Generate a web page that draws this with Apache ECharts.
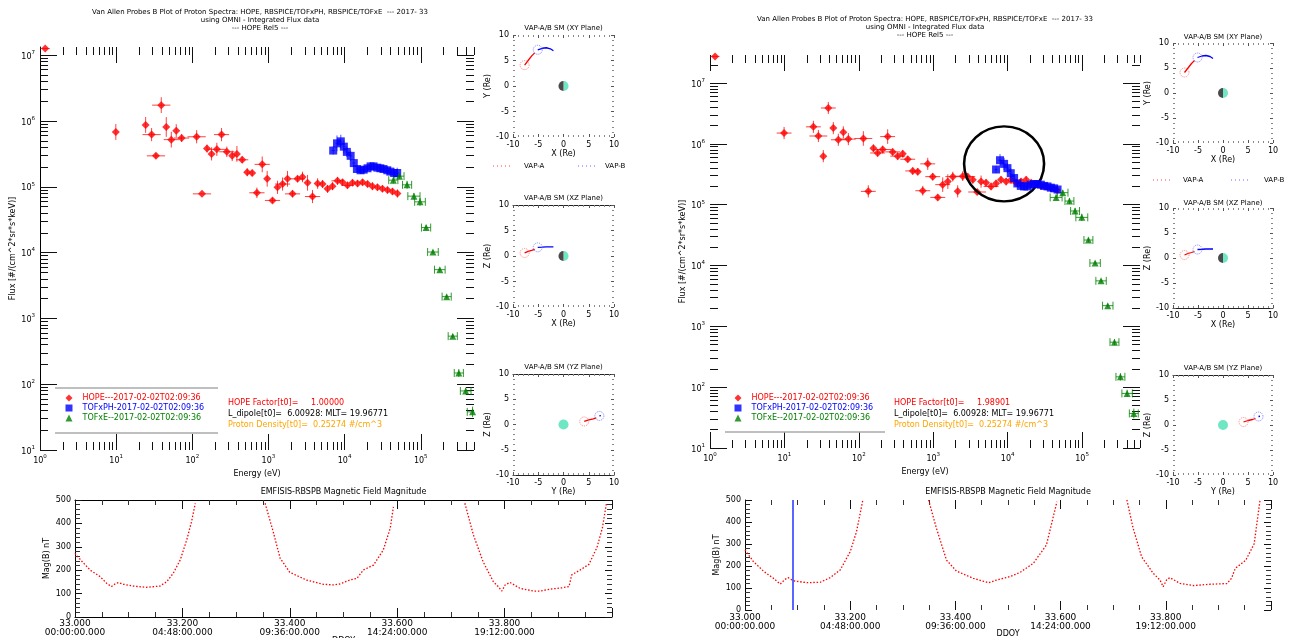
<!DOCTYPE html>
<html>
<head>
<meta charset="utf-8">
<title>Van Allen Probes B proton spectra</title>
<script src="https://cdn.jsdelivr.net/npm/echarts@6/dist/echarts.min.js"></script>
<style>
  html, body { margin: 0; padding: 0; background: #fff; }
  #main { width: 1291px; height: 638px; }
</style>
</head>
<body>
<div id="main"></div>
<script>
// ---------------- axis tick values ----------------
const energyTicks = [1, 10, 100, 1000, 10000, 100000];
const fluxTicks = [10, 100, 1000, 10000, 100000, 1000000, 10000000];
const orbitTicks = [-10, -5, 0, 5, 10];

// ---------------- spectra, HOPE factor 1.00000 ----------------
// energy in eV, flux in #/(cm^2 sr s keV); dE / dF are half widths of the error bars in decades
const hopeEnergyL = [1.17, 9.9, 24.4, 29.2, 33.3, 39.1, 45.5, 53.0, 61.5, 72.4, 114, 134, 156, 179, 210, 242, 284, 334, 385, 452, 526, 611, 705, 828, 962, 1130, 1315, 1531, 1778, 2070, 2410, 2800, 3260, 3790, 4420, 5130, 5970, 6930, 8070, 9400, 10900, 12700, 14800, 17200, 20000, 23200, 27000, 31400, 36600, 42500, 49400];
const hopeFluxL = [1.26e7, 6.8e5, 8.7e5, 6.2e5, 2.95e5, 1.74e6, 8.1e5, 5.2e5, 7.1e5, 5.5e5, 5.75e5, 7.8e4, 3.8e5, 3.16e5, 3.7e5, 6.2e5, 3.4e5, 2.95e5, 3.16e5, 2.57e5, 1.66e5, 1.62e5, 8.1e4, 2.19e5, 1.32e5, 6.2e4, 9.8e4, 1.10e5, 1.32e5, 7.8e4, 1.32e5, 1.41e5, 1.15e5, 7.1e4, 1.12e5, 1.10e5, 9.3e4, 1.02e5, 1.23e5, 1.17e5, 1.05e5, 1.15e5, 1.12e5, 1.17e5, 1.10e5, 1.02e5, 9.8e4, 9.3e4, 8.9e4, 8.5e4, 7.9e4];
const hopeDEL = [0.06, 0, 0, .12, .12, .12, 0, .1, 0, .1, .12, .12, 0, 0, .12, .1, .1, 0, 0, .08, 0, 0, .1, .1, 0, .1, 0, .1, 0, .1, .1, 0, 0, .1, 0, 0, 0, 0, .08, 0, .08, 0, 0, 0, 0, 0, 0, 0, 0, 0, 0];
const hopeDFL = [0, .12, .12, .1, .04, .12, .15, .12, .1, .06, .1, 0, .06, .1, .1, .1, .08, .08, .12, .05, .06, .05, .08, .12, .12, .04, .1, .1, .12, .05, .05, .08, .12, .1, .08, .06, .06, .06, .06, .05, .05, .05, .05, .05, .05, .06, .05, .05, .05, .05, .06];

const tofphEnergyL = [7080, 7940, 8910, 9770, 10700, 12000, 13200, 14500, 16200, 17800, 20000, 21900, 24000, 26900, 29500, 32400, 36300, 39800, 44700, 49000];
const tofphFluxL = [3.55e5, 4.57e5, 4.9e5, 4.07e5, 3.39e5, 2.95e5, 2.29e5, 1.86e5, 1.78e5, 1.82e5, 1.91e5, 2.04e5, 2.04e5, 1.95e5, 1.91e5, 1.86e5, 1.78e5, 1.70e5, 1.62e5, 1.62e5];
const tofphDEL = [.02, .02, .02, .02, .02, .02, .02, .02, .02, .02, .02, .02, .02, .02, .02, .02, .02, .02, .02, .02];
const tofphDFL = [.06, .12, .1, .1, .08, .08, .06, .05, .05, .05, .05, .06, .05, .05, .05, .05, .06, .06, .07, .08];

const tofxeEnergyL = [43600, 52500, 66100, 81300, 97700, 117500, 144500, 177800, 218800, 263000, 316000, 389000, 479000];
const tofxeFluxL = [1.26e5, 1.45e5, 1.07e5, 7.2e4, 5.9e4, 2.4e4, 1.02e4, 5500, 2140, 537, 148, 79, 38];
const tofxeDEL = [.06, .06, .06, .08, .07, .06, .07, .07, .06, .06, .06, .07, .07];
const tofxeDFL = [.05, .04, .06, .05, .06, .04, .03, .03, .03, .03, .06, .05, .08];

// ---------------- spectra, HOPE factor 1.98901 ----------------
const hopeEnergyR = [1.17, 9.9, 24.5, 28.6, 33.3, 38.9, 45.4, 53.0, 61.9, 72.3, 115, 134, 157, 179, 209, 244, 285, 333, 389, 454, 530, 619, 723, 843, 984, 1150, 1340, 1570, 1830, 2130, 2490, 2910, 3400, 3890, 4390, 5120, 5980, 6980, 8130, 9530, 11100, 13000, 15100, 17700, 20700, 24100, 28100, 32800, 38300, 45700];
const hopeFluxR = [2.75e7, 1.51e6, 1.91e6, 1.35e6, 6.3e5, 3.9e6, 1.82e6, 1.17e6, 1.55e6, 1.2e6, 1.23e6, 1.66e5, 8.5e5, 7.1e5, 8.1e5, 1.32e6, 7.4e5, 6.3e5, 6.9e5, 5.6e5, 3.6e5, 3.5e5, 1.7e5, 4.7e5, 2.9e5, 1.32e5, 2.14e5, 2.4e5, 2.9e5, 1.66e5, 2.95e5, 2.9e5, 2.57e5, 1.62e5, 2.4e5, 2.29e5, 2.0e5, 2.24e5, 2.57e5, 2.4e5, 2.57e5, 2.29e5, 2.4e5, 2.57e5, 2.29e5, 2.19e5, 2.04e5, 2.0e5, 1.86e5, 1.74e5];
const hopeDER = [0.06, .1, .1, .12, 0, .1, 0, .1, 0, .1, .12, .1, 0, .1, .12, .1, .1, .1, 0, .1, .1, 0, .1, .1, .1, .1, .1, 0, .1, 0, .1, .1, 0, .12, 0, 0, .1, 0, 0, 0, 0, .1, 0, 0, 0, 0, 0, 0, 0, 0];
const hopeDFR = [0, .1, .1, .1, .1, .1, .1, .1, .1, .1, .12, .1, .06, .06, .06, .12, .06, .06, .06, .05, .06, .06, .08, .1, .06, .05, .12, .12, .08, .1, .08, .06, .06, .05, .1, .06, .06, .06, .06, .06, .06, .06, .06, .06, .05, .05, .05, .05, .05, .05];

const tofphEnergyR = [6980, 7890, 8950, 9930, 11000, 12200, 13500, 15000, 16600, 18400, 20400, 22600, 25100, 27900, 30900, 34300, 38000, 42100, 46800];
const tofphFluxR = [3.8e5, 5.4e5, 4.7e5, 4.0e5, 3.3e5, 2.75e5, 2.24e5, 2.04e5, 2.0e5, 2.0e5, 2.14e5, 2.19e5, 2.19e5, 2.14e5, 2.04e5, 2.0e5, 1.91e5, 1.86e5, 1.78e5];
const tofphDER = [.02, .02, .02, .02, .02, .02, .02, .02, .02, .02, .02, .02, .02, .02, .02, .02, .02, .02, .02];
const tofphDFR = [.06, .1, .1, .08, .08, .06, .06, .05, .05, .05, .05, .05, .05, .05, .05, .05, .05, .06, .06];

const tofxeEnergyR = [44800, 55000, 67600, 80500, 99100, 121600, 149600, 179900, 221300, 272300, 327300, 402700, 495500];
const tofxeFluxR = [1.32e5, 1.58e5, 1.15e5, 7.9e4, 6.2e4, 2.63e4, 1.10e4, 5600, 2190, 550, 148, 79, 37];
const tofxeDER = [.08, .07, .06, .06, .08, .06, .07, .07, .07, .06, .06, .07, .06];
const tofxeDFR = [.05, .04, .05, .05, .06, .04, .03, .03, .03, .05, .06, .06, .08];

// highlighted region of the TOFxPH / HOPE overlap (energy eV, flux)
const highlightPoint = [8950, 4.7e5];

// ---------------- spacecraft tracks, SM coordinates (Re) ----------------
const vapA_x = [-7.7, -7.0, -6.3, -5.7];
const vapA_y = [4.1, 5.0, 5.9, 6.5];
const vapA_z = [0.6, 0.9, 1.1, 1.3];
const vapB_x = [-5.1, -4.2, -3.4, -2.6, -2.0];
const vapB_y = [7.1, 7.4, 7.5, 7.3, 6.9];
const vapB_z = [1.7, 1.75, 1.8, 1.8, 1.8];
const earthRadius = 1;

// ---------------- EMFISIS |B| (nT) vs decimal day of year; null separates orbit passes ----------------
const magTimeL = [33.000, 33.014, 33.028, 33.047, 33.059, 33.068, 33.075, 33.081, 33.090, 33.109, 33.133, 33.158, 33.171, 33.183, 33.196, 33.208, 33.217, 33.224, null,
  33.354, 33.369, 33.382, 33.400, 33.431, 33.462, 33.481, 33.493, 33.512, 33.525, 33.537, 33.556, 33.574, 33.587, 33.593, null,
  33.726, 33.742, 33.760, 33.779, 33.788, 33.795, 33.801, 33.810, 33.829, 33.854, 33.866, 33.888, 33.905, 33.920, 33.925, 33.940, 33.957, 33.972, 33.982, 33.990];
const magFieldL = [272, 235, 201, 172, 144, 130, 142, 147, 140, 132, 127, 132, 151, 187, 244, 329, 407, 486, null,
  486, 365, 251, 191, 158, 140, 137, 141, 158, 165, 201, 222, 286, 379, 471, null,
  486, 350, 236, 151, 130, 111, 137, 148, 122, 111, 111, 120, 124, 130, 180, 200, 225, 297, 380, 490];
const magTimeR = [33.000, 33.016, 33.035, 33.054, 33.067, 33.076, 33.082, 33.092, 33.117, 33.143, 33.162, 33.181, 33.200, 33.212, 33.224, null,
  33.349, 33.364, 33.383, 33.402, 33.434, 33.463, 33.478, 33.504, 33.523, 33.548, 33.573, 33.593, null,
  33.726, 33.738, 33.754, 33.776, 33.789, 33.795, 33.802, 33.808, 33.827, 33.852, 33.884, 33.916, 33.925, 33.932, 33.952, 33.968, 33.979];
const magFieldR = [273, 220, 177, 144, 118, 139, 147, 133, 124, 126, 147, 182, 265, 356, 500, null,
  500, 371, 227, 177, 144, 124, 136, 152, 171, 212, 295, 492, null,
  500, 371, 242, 167, 136, 106, 139, 147, 121, 111, 117, 120, 144, 189, 226, 301, 497];
const t0Day = 33.09; // 2017-02-02T02:09:36

// ---------------- text ----------------
const legendNames = ['HOPE---2017-02-02T02:09:36', 'TOFxPH-2017-02-02T02:09:36', 'TOFxE--2017-02-02T02:09:36'];
const legendIcons = ['diamond', 'rect', 'triangle'];
const seriesColors = ['#ff0000', '#0000ff', '#008000'];
const titleLine1 = 'Van Allen Probes B Plot of Proton Spectra: HOPE, RBSPICE/TOFxPH, RBSPICE/TOFxE  --- 2017- 33';
const titleLine2 = 'using OMNI - Integrated Flux data';
const titleLine3 = '--- HOPE Rel5 ---';

const FONT = 'DejaVu Sans';
const grids = [], xAxes = [], yAxes = [], series = [], graphics = [];

function logMinor(lo, hi) {
  const v = [];
  for (let e = lo; e < hi; e++) for (let m = 2; m < 10; m++) v.push(m * Math.pow(10, e));
  return v;
}
const energyMinor = logMinor(0, 6);
const fluxMinor = logMinor(1, 8);

const powRich = {
  b: { fontSize: 8, fontFamily: FONT, color: '#000', lineHeight: 11, verticalAlign: 'bottom' },
  s: { fontSize: 5.5, fontFamily: FONT, color: '#000', lineHeight: 6, verticalAlign: 'top' }
};
function pow10(v) { return '{b|10}{s|' + Math.round(Math.log10(v)) + '}'; }
const tickLine = { color: '#111', width: 1 };
const nameStyle = { fontFamily: FONT, fontSize: 8, color: '#000' };

function errRender(color, caps) {
  return function (params, api) {
    const E = api.value(0), F = api.value(1), dE = api.value(2), dF = api.value(3);
    const st = { stroke: color, lineWidth: 1 };
    const kids = [];
    if (dE > 0) {
      const k = Math.pow(10, dE);
      const a = api.coord([E / k, F]), b = api.coord([E * k, F]);
      kids.push({ type: 'line', shape: { x1: a[0], y1: a[1], x2: b[0], y2: b[1] }, style: st });
      if (caps) {
        kids.push({ type: 'line', shape: { x1: a[0], y1: a[1] - 4, x2: a[0], y2: a[1] + 4 }, style: st });
        kids.push({ type: 'line', shape: { x1: b[0], y1: b[1] - 4, x2: b[0], y2: b[1] + 4 }, style: st });
      }
    }
    if (dF > 0) {
      const k = Math.pow(10, dF);
      const a = api.coord([E, F / k]), b = api.coord([E, F * k]);
      kids.push({ type: 'line', shape: { x1: a[0], y1: a[1], x2: b[0], y2: b[1] }, style: st });
    }
    return { type: 'group', children: kids };
  };
}

function txt(x, y, text, size, color, align) {
  return {
    type: 'text', x: x, y: y, silent: true, z: 50,
    style: { text: text, font: size + 'px "' + FONT + '"', fill: color || '#000',
             textAlign: align || 'left', textVerticalAlign: 'middle' }
  };
}
function hline(x1, x2, y, color, w, dash) {
  return { type: 'line', silent: true, z: 50,
    shape: { x1: x1, y1: y, x2: x2, y2: y },
    style: { stroke: color, lineWidth: w || 1, lineDash: dash || null } };
}

// ---------- energy spectrum panel ----------
function buildSpectrum(box, d) {
  const gi = grids.length;
  grids.push({ left: box.left, top: box.top, width: box.width, height: box.height });
  const base = { type: 'log', logBase: 10, gridIndex: gi, splitLine: { show: false }, axisLabel: { show: false }, axisLine: { show: false } };
  const xb = Object.assign({}, base, { min: 1, max: box.xMax });
  const yb = Object.assign({}, base, { min: 10, max: box.yMax });
  const xi = xAxes.length;
  xAxes.push(Object.assign({}, xb, {
    position: 'bottom',
    axisTick: { inside: true, length: 16, customValues: energyTicks, lineStyle: tickLine },
    axisLabel: { show: true, customValues: energyTicks, formatter: pow10, rich: powRich, margin: 4 },
    name: 'Energy (eV)', nameLocation: 'middle', nameGap: 15, nameTextStyle: nameStyle
  }));
  xAxes.push(Object.assign({}, xb, { position: 'top', axisTick: { inside: true, length: 16, customValues: energyTicks, lineStyle: tickLine } }));
  xAxes.push(Object.assign({}, xb, { position: 'bottom', axisTick: { inside: true, length: 8, customValues: energyMinor, lineStyle: tickLine } }));
  xAxes.push(Object.assign({}, xb, { position: 'top', axisTick: { inside: true, length: 8, customValues: energyMinor, lineStyle: tickLine } }));
  const yi = yAxes.length;
  yAxes.push(Object.assign({}, yb, {
    position: 'left',
    axisLine: { show: box.leftLine, lineStyle: { color: '#000', width: 1 } },
    axisTick: { inside: true, length: 17, customValues: fluxTicks, lineStyle: tickLine },
    axisLabel: { show: true, customValues: fluxTicks, formatter: pow10, rich: powRich, margin: 5 },
    name: 'Flux [#/(cm^2*sr*s*keV)]', nameLocation: 'middle', nameGap: 22, nameRotate: 90, nameTextStyle: nameStyle
  }));
  yAxes.push(Object.assign({}, yb, { position: 'right', axisTick: { inside: true, length: 17, customValues: fluxTicks, lineStyle: tickLine } }));
  yAxes.push(Object.assign({}, yb, { position: 'left', axisTick: { inside: true, length: 8, customValues: fluxMinor, lineStyle: tickLine } }));
  yAxes.push(Object.assign({}, yb, { position: 'right', axisTick: { inside: true, length: 8, customValues: fluxMinor, lineStyle: tickLine } }));

  const sets = [d.hope, d.ph, d.xe];
  const errColors = ['rgba(255,0,0,0.75)', 'rgba(0,0,255,0.7)', 'rgba(0,128,0,0.8)'];
  const sizes = [8, 8, 7];
  sets.forEach(function (s, k) {
    series.push({
      type: 'custom', name: legendNames[k] + ' error', coordinateSystem: 'cartesian2d',
      xAxisIndex: xi, yAxisIndex: yi, clip: true, silent: true, z: 2,
      renderItem: errRender(errColors[k], k === 2),
      encode: { x: 0, y: 1 },
      data: s.E.map(function (e, i) { return [e, s.F[i], s.dE[i], s.dF[i]]; })
    });
  });
  sets.forEach(function (s, k) {
    const ser = {
      type: 'scatter', name: legendNames[k], xAxisIndex: xi, yAxisIndex: yi,
      symbol: legendIcons[k], symbolSize: sizes[k], clip: true, z: 4 + k, silent: true,
      itemStyle: { color: seriesColors[k] },
      data: s.E.map(function (e, i) { return [e, s.F[i]]; })
    };
    if (k === 1 && d.mark) {
      ser.markPoint = {
        silent: true, symbol: 'circle', symbolSize: [80, 75],
        itemStyle: { color: 'rgba(0,0,0,0)', borderColor: '#000', borderWidth: 2.5 },
        label: { show: false },
        data: [{ coord: d.mark }]
      };
    }
    series.push(ser);
  });
}

// ---------- orbit plane panel ----------
function buildOrbit(box) {
  const gi = grids.length;
  grids.push({ left: box.left, top: box.top, width: box.width, height: box.height });
  const base = {
    type: 'value', gridIndex: gi, min: -10, max: 10, interval: 5, splitLine: { show: false },
    axisTick: { inside: true, length: 3, lineStyle: { color: '#555' } },
    minorTick: { show: true, splitNumber: 5, length: 2, lineStyle: { color: '#888' } },
    axisLabel: { show: false }
  };
  const lab = { show: true, fontSize: 8, fontFamily: FONT, color: '#000', margin: 4 };
  const xi = xAxes.length;
  xAxes.push(Object.assign({}, base, {
    position: 'bottom', axisLine: { show: !!box.bottomLine, onZero: false, lineStyle: { color: '#222' } },
    axisLabel: lab, name: box.hName, nameLocation: 'middle', nameGap: 12, nameTextStyle: nameStyle
  }));
  xAxes.push(Object.assign({}, base, { position: 'top', axisLine: { show: !!box.topLine, onZero: false, lineStyle: { color: '#222' } } }));
  const yi = yAxes.length;
  yAxes.push(Object.assign({}, base, {
    position: 'left', axisLine: { show: false, onZero: false },
    axisLabel: lab, name: box.vName, nameLocation: 'middle', nameGap: 19, nameRotate: 90, nameTextStyle: nameStyle
  }));
  yAxes.push(Object.assign({}, base, { position: 'right', axisLine: { show: false, onZero: false } }));

  const pick = { X: [vapA_x, vapB_x], Y: [vapA_y, vapB_y], Z: [vapA_z, vapB_z] };
  const h = pick[box.h], v = pick[box.v];
  const halfNight = box.h === 'X';
  series.push({
    type: 'custom', coordinateSystem: 'cartesian2d', xAxisIndex: xi, yAxisIndex: yi, silent: true, z: 3,
    data: [[0, 0]], encode: { x: 0, y: 1 },
    renderItem: function (params, api) {
      const c = api.coord([0, 0]);
      const r = api.size([earthRadius, earthRadius])[0];
      if (!halfNight) {
        return { type: 'circle', shape: { cx: c[0], cy: c[1], r: r }, style: { fill: '#6fe6c4' } };
      }
      return { type: 'group', children: [
        { type: 'sector', shape: { cx: c[0], cy: c[1], r0: 0, r: r, startAngle: -Math.PI / 2, endAngle: Math.PI / 2 }, style: { fill: '#6fe6c4' } },
        { type: 'sector', shape: { cx: c[0], cy: c[1], r0: 0, r: r, startAngle: Math.PI / 2, endAngle: Math.PI * 1.5 }, style: { fill: '#4a4a4a' } }
      ] };
    }
  });
  const cols = ['#ff0000', '#0000ff'];
  [0, 1].forEach(function (k) {
    const pts = h[k].map(function (val, i) { return [val, v[k][i]]; });
    series.push({
      type: 'line', xAxisIndex: xi, yAxisIndex: yi, data: pts, symbol: 'none', silent: true, z: 4,
      lineStyle: { color: cols[k], width: 1.3 }
    });
    series.push({
      type: 'scatter', xAxisIndex: xi, yAxisIndex: yi, data: [pts[0]], symbol: 'circle', symbolSize: 9, silent: true, z: 5,
      itemStyle: { color: 'rgba(0,0,0,0)', borderColor: k ? '#6666ff' : '#ff6666', borderWidth: 1, borderType: 'dotted' }
    });
  });
  graphics.push(txt(box.left + box.width / 2, box.titleY, 'VAP-A/B SM (' + box.h + box.v + ' Plane)', 7, '#000', 'center'));
}

// ---------- magnetic field magnitude panel ----------
function buildMag(box, times, field, marker) {
  const gi = grids.length;
  grids.push({ left: box.left, top: box.top, width: box.width, height: box.height });
  const pad = function (n) { return (n < 10 ? '0' : '') + n; };
  const xb = {
    type: 'value', gridIndex: gi, min: 33, max: 34, interval: 0.2, splitLine: { show: false },
    axisTick: { inside: true, length: 9, lineStyle: tickLine },
    minorTick: { show: true, splitNumber: 4, length: 5, lineStyle: { color: '#333' } },
    axisLabel: { show: false }
  };
  const xi = xAxes.length;
  xAxes.push(Object.assign({}, xb, {
    position: 'bottom', axisLine: { show: box.box, onZero: false, lineStyle: { color: '#000' } },
    axisLabel: {
      show: true, showMaxLabel: false, fontSize: 9, fontFamily: FONT, color: '#000', lineHeight: 9, margin: box.labelMargin,
      formatter: function (val) {
        const secs = Math.round((val - 33) * 86400);
        return val.toFixed(3) + '\n' + pad(Math.floor(secs / 3600)) + ':' + pad(Math.floor(secs % 3600 / 60)) + ':' + pad(secs % 60) + '.000';
      }
    }
  }));
  xAxes.push(Object.assign({}, xb, { position: 'top', axisLine: { show: box.box, onZero: false, lineStyle: { color: '#000' } } }));
  const yb = {
    type: 'value', gridIndex: gi, min: 0, max: 500, interval: 100, splitLine: { show: false },
    axisTick: { inside: true, length: 7, lineStyle: tickLine },
    minorTick: { show: true, splitNumber: 5, length: 5, lineStyle: { color: '#333' } },
    axisLabel: { show: false }
  };
  const yi = yAxes.length;
  yAxes.push(Object.assign({}, yb, {
    position: 'left', axisLine: { show: true, onZero: false, lineStyle: { color: '#000' } },
    axisLabel: { show: true, fontSize: 8, fontFamily: FONT, color: '#000', margin: 4 },
    name: 'Mag(B) nT', nameLocation: 'middle', nameGap: 24, nameRotate: 90, nameTextStyle: nameStyle
  }));
  yAxes.push(Object.assign({}, yb, { position: 'right', axisLine: { show: false, onZero: false } }));

  let seg = [];
  const segs = [];
  times.forEach(function (t, i) {
    if (t === null) { segs.push(seg); seg = []; } else { seg.push([t, field[i]]); }
  });
  segs.push(seg);
  segs.forEach(function (pts, k) {
    const s = {
      type: 'line', xAxisIndex: xi, yAxisIndex: yi, data: pts, symbol: 'none', silent: true, z: 3,
      lineStyle: { color: '#ff0000', width: 1.3, type: [1.5, 1.8] }
    };
    if (marker !== undefined && k === 0) {
      s.markLine = {
        silent: true, symbol: ['none', 'none'], label: { show: false },
        lineStyle: { color: '#2233ff', type: 'solid', width: 1.5 },
        data: [{ xAxis: marker }]
      };
    }
    series.push(s);
  });
  graphics.push(txt(box.left + box.width / 2, box.top - 8, 'EMFISIS-RBSPB Magnetic Field Magnitude', 8, '#000', 'center'));
  graphics.push(txt(box.left + box.width / 2, box.ddoyY, 'DDOY', 8, '#000', 'center'));
}

// ---------------- left figure ----------------
buildSpectrum({ left: 40, top: 47, width: 434, height: 403, xMax: 5.0e5, yMax: 1.33e7, leftLine: true }, {
  hope: { E: hopeEnergyL, F: hopeFluxL, dE: hopeDEL, dF: hopeDFL },
  ph: { E: tofphEnergyL, F: tofphFluxL, dE: tofphDEL, dF: tofphDFL },
  xe: { E: tofxeEnergyL, F: tofxeFluxL, dE: tofxeDEL, dF: tofxeDFL }
});
buildOrbit({ left: 513, top: 35, width: 101, height: 102, h: 'X', v: 'Y', hName: 'X (Re)', vName: 'Y (Re)', titleY: 28 });
buildOrbit({ left: 513, top: 205, width: 101, height: 102, h: 'X', v: 'Z', hName: 'X (Re)', vName: 'Z (Re)', titleY: 198, topLine: true });
buildOrbit({ left: 513, top: 374, width: 101, height: 101, h: 'Y', v: 'Z', hName: 'Y (Re)', vName: 'Z (Re)', titleY: 367, topLine: true, bottomLine: true });
buildMag({ left: 75, top: 500, width: 537, height: 117, box: true, labelMargin: 2, ddoyY: 641 }, magTimeL, magFieldL);

// ---------------- right figure ----------------
buildSpectrum({ left: 710, top: 55, width: 430, height: 393, xMax: 6.0e5, yMax: 2.9e7, leftLine: false }, {
  hope: { E: hopeEnergyR, F: hopeFluxR, dE: hopeDER, dF: hopeDFR },
  ph: { E: tofphEnergyR, F: tofphFluxR, dE: tofphDER, dF: tofphDFR },
  xe: { E: tofxeEnergyR, F: tofxeFluxR, dE: tofxeDER, dF: tofxeDFR },
  mark: highlightPoint
});
buildOrbit({ left: 1173, top: 43, width: 100, height: 100, h: 'X', v: 'Y', hName: 'X (Re)', vName: 'Y (Re)', titleY: 37 });
buildOrbit({ left: 1173, top: 208, width: 100, height: 100, h: 'X', v: 'Z', hName: 'X (Re)', vName: 'Z (Re)', titleY: 203, bottomLine: true });
buildOrbit({ left: 1173, top: 375, width: 100, height: 100, h: 'Y', v: 'Z', hName: 'Y (Re)', vName: 'Z (Re)', titleY: 368, topLine: true });
buildMag({ left: 745, top: 500, width: 526, height: 110, box: false, labelMargin: 3, ddoyY: 634 }, magTimeR, magFieldR, t0Day);

// ---------------- titles and annotations ----------------
[[260, 12], [925, 19]].forEach(function (p) {
  graphics.push(txt(p[0], p[1], titleLine1, 7, '#000', 'center'));
  graphics.push(txt(p[0], p[1] + 8.3, titleLine2, 7, '#000', 'center'));
  graphics.push(txt(p[0], p[1] + 16, titleLine3, 7, '#000', 'center'));
});
graphics.push(hline(55, 218, 388, '#aaa', 1.5));
graphics.push(hline(55, 218, 433, '#aaa', 1.5));
graphics.push(hline(725, 885, 432, '#aaa', 1.5));
[[228, '1.00000', 'L_dipole[t0]=  6.00928: MLT= 19.96771'], [894, '1.98901', 'L_dipole[t0]=  6.00928: MLT= 19.96771']].forEach(function (p) {
  graphics.push(txt(p[0], 403, 'HOPE Factor[t0]=     ' + p[1], 8, '#ff0000'));
  graphics.push(txt(p[0], 414, p[2], 8, '#000'));
  graphics.push(txt(p[0], 425, 'Proton Density[t0]=  0.25274 #/cm^3', 8, '#ffa500'));
});
// orbit legends
[[493, 524, 578, 605, 166], [1153, 1183, 1231, 1264, 180]].forEach(function (p) {
  graphics.push(hline(p[0], p[0] + 17, p[4], '#ff4444', 1, [1, 3]));
  graphics.push(txt(p[1], p[4], 'VAP-A', 7, '#000'));
  graphics.push(hline(p[2], p[2] + 19, p[4], '#6666ff', 1, [1, 3]));
  graphics.push(txt(p[3], p[4], 'VAP-B', 7, '#000'));
});

function mkLegend(left) {
  return {
    left: left, top: 394, orient: 'vertical', padding: 0, itemGap: 2, itemWidth: 7, itemHeight: 7,
    selectedMode: false,
    textStyle: { fontFamily: FONT, fontSize: 8, padding: [0, 0, 0, 5] },
    data: legendNames.map(function (n, i) {
      return { name: n, icon: legendIcons[i], textStyle: { color: seriesColors[i] } };
    })
  };
}

const chart = echarts.init(document.getElementById('main'), null, { renderer: 'canvas' });
chart.setOption({
  animation: false,
  backgroundColor: '#ffffff',
  textStyle: { fontFamily: FONT },
  grid: grids,
  xAxis: xAxes,
  yAxis: yAxes,
  legend: [mkLegend(65.5), mkLegend(734.5)],
  series: series,
  graphic: { elements: graphics }
});
</script>
</body>
</html>
